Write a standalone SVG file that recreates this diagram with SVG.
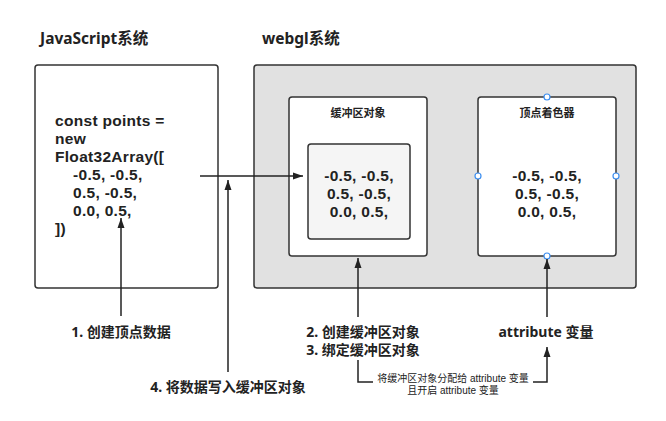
<svg xmlns="http://www.w3.org/2000/svg" width="666" height="421" viewBox="0 0 666 421">
<style>
text{font-family:"Noto Sans","Noto Sans CJK SC",sans-serif;fill:#222}
.b{font-weight:bold}
.code{font-family:"Liberation Sans","Noto Sans CJK SC",sans-serif;font-weight:bold;font-size:15.5px;letter-spacing:0.3px}
.small{font-family:"Liberation Sans","Noto Sans CJK SC",sans-serif;font-size:10px}
.box{stroke:#333;stroke-width:1.5}
.ln{fill:none;stroke:#222;stroke-width:1.5}
.h{fill:#fff;stroke:#3d8ff0;stroke-width:1.2}
</style>
<defs>
<marker id="ar" viewBox="0 0 10 10" refX="10" refY="5" markerWidth="10" markerHeight="10" markerUnits="userSpaceOnUse" orient="auto">
<path d="M0,1.5 L10,5 L0,8.5 Z" fill="#222"/>
</marker>
</defs>
<rect width="666" height="421" fill="#fff"/>
<text class="b" x="40" y="44" font-size="15.5">JavaScript系统</text>
<text class="b" x="262" y="44" font-size="15.5">webgl系统</text>
<g id="js">
<rect class="box" x="35" y="65" width="183" height="223" rx="3" fill="#fff"/>
<text class="code" x="55" y="126">const points =</text>
<text class="code" x="55" y="144">new</text>
<text class="code" x="55" y="162">Float32Array([</text>
<text class="code" x="73" y="180">-0.5, -0.5,</text>
<text class="code" x="73" y="198">0.5, -0.5,</text>
<text class="code" x="73" y="216">0.0, 0.5,</text>
<text class="code" x="55" y="234">])</text>
</g>
<g id="webgl">
<rect class="box" x="254" y="65" width="382" height="223" rx="3" fill="#e1e1e1"/>
</g>
<g id="buffer">
<rect class="box" x="289" y="97" width="138" height="159" rx="3" fill="#fff"/>
<text class="b" x="358" y="117" font-size="11" text-anchor="middle">缓冲区对象</text>
</g>
<g id="bufferData">
<rect class="box" x="308" y="144" width="102" height="95" rx="3" fill="#f5f5f5"/>
<text class="code" x="359" y="181" text-anchor="middle">-0.5, -0.5,</text>
<text class="code" x="359" y="199" text-anchor="middle">0.5, -0.5,</text>
<text class="code" x="359" y="217" text-anchor="middle">0.0, 0.5,</text>
</g>
<g id="shader">
<rect class="box" x="478" y="97" width="138" height="159" rx="3" fill="#fff"/>
<text class="b" x="547" y="117" font-size="11" text-anchor="middle">顶点着色器</text>
<text class="code" x="547" y="181" text-anchor="middle">-0.5, -0.5,</text>
<text class="code" x="547" y="199" text-anchor="middle">0.5, -0.5,</text>
<text class="code" x="547" y="217" text-anchor="middle">0.0, 0.5,</text>
<circle class="h" cx="547" cy="97" r="3"/>
<circle class="h" cx="478" cy="176" r="3"/>
<circle class="h" cx="616" cy="176" r="3"/>
<circle class="h" cx="547" cy="256" r="3"/>
</g>
<g id="labels" class="b" font-size="14">
<text x="121" y="337" text-anchor="middle">1. 创建顶点数据</text>
<text x="363" y="337" text-anchor="middle">2. 创建缓冲区对象</text>
<text x="363" y="355" text-anchor="middle">3. 绑定缓冲区对象</text>
<text x="546" y="337" text-anchor="middle">attribute 变量</text>
<text x="228" y="392" text-anchor="middle">4. 将数据写入缓冲区对象</text>
</g>
<g id="connectors">
<line class="ln" x1="200" y1="176" x2="303" y2="176" marker-end="url(#ar)"/>
<line class="ln" x1="228" y1="372" x2="228" y2="180" marker-end="url(#ar)"/>
<line class="ln" x1="121" y1="316" x2="121" y2="218" marker-end="url(#ar)"/>
<line class="ln" x1="358" y1="317" x2="358" y2="258" marker-end="url(#ar)"/>
<line class="ln" x1="547" y1="317" x2="547" y2="259" marker-end="url(#ar)"/>
<polyline class="ln" points="358,360 358,382 547,382 547,347" marker-end="url(#ar)"/>
<rect x="373" y="372" width="160" height="25" fill="#fff"/>
<text class="small" x="453" y="382" text-anchor="middle">将缓冲区对象分配给 attribute 变量</text>
<text class="small" x="453" y="394" text-anchor="middle">且开启 attribute 变量</text>
</g>
</svg>
